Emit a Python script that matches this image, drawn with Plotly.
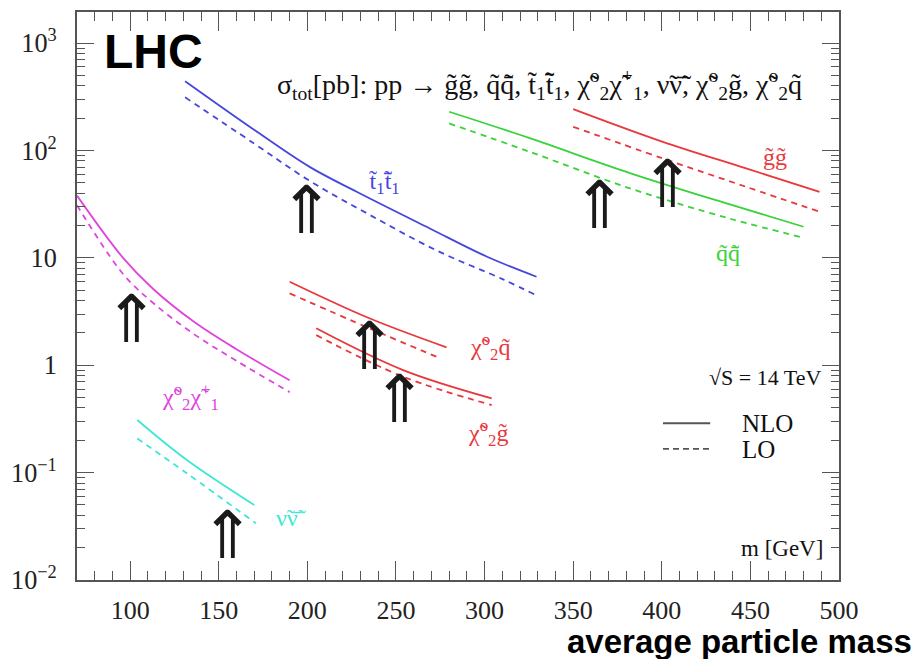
import math
import plotly.graph_objects as go

# ---------------- data ----------------
stop_mass_nlo = [131, 169.5, 201.5, 227.8, 269.1, 301.1, 329.3]
stop_nlo = [442.6, 158.0, 70.0, 41.3, 18.8, 10.3, 6.67]
stop_mass_lo = [131, 169.5, 201.5, 235.3, 272.8, 310.4, 329.3]
stop_lo = [312.6, 117.5, 51.9, 25.1, 11.75, 6.31, 4.47]

chichi_mass = [70, 96, 113, 136, 160, 190]
chichi_nlo = [38.0, 10.0, 5.13, 2.54, 1.41, 0.724]
chichi_lo = [30.9, 7.08, 3.80, 1.95, 1.10, 0.562]

nunu_mass_nlo = [104, 132, 170]
nunu_nlo = [0.309, 0.131, 0.0499]
nunu_mass_lo = [104, 132, 171]
nunu_lo = [0.208, 0.0986, 0.0337]

chiq_mass_nlo = [190, 235, 278.5]
chiq_nlo = [6.0, 2.74, 1.47]
chiq_mass_lo = [190, 235, 275]
chiq_lo = [4.67, 2.21, 1.16]

chig_mass = [205, 254, 304]
chig_nlo = [2.21, 0.902, 0.492]
chig_lo = [1.91, 0.782, 0.426]

qq_mass = [280, 325.5, 382, 438, 480]
qq_nlo = [229.6, 130.3, 61.7, 31.6, 19.5]
qq_lo = [178.6, 97.3, 44.4, 23.3, 15.4]

gg_mass = [350, 400.6, 447.6, 489]
gg_nlo = [243.2, 120.5, 68.1, 41.2]
gg_lo = [166.3, 84.3, 45.9, 26.9]

# arrow markers (mass, cross-section at arrow centre)
arrow_mass = [199.6, 101, 155.2, 235.3, 252.2, 364.9, 403.4]
arrow_sigma = [27.9, 2.69, 0.0262, 1.49, 0.484, 31.0, 48.6]

# curve labels
label_text = ["t\u0303<sub>1</sub>t\u0304\u0303<sub>1</sub>", "g\u0303g\u0303", "q\u0303q\u0304\u0303",
              "\u03c7\u0303<sup>o</sup><sub>2</sub>q\u0303", "\u03c7\u0303<sup>o</sup><sub>2</sub>g\u0303",
              "\u03c7\u0303<sup>o</sup><sub>2</sub>\u03c7\u0303<sup>+</sup><sub>1</sub>", "\u03bd\u0303\u03bd\u0304\u0303"]
label_mass = [243.7, 463.6, 437.1, 302.9, 301.8, 133.8, 190.8]
label_sigma = [49.7, 86.9, 11.1, 1.48, 0.234, 0.506, 0.0378]

BLUE = "#4646dc"
RED = "#e8383c"
GREEN = "#3ad23a"
MAGENTA = "#e044dc"
CYAN = "#3ee6d6"
label_colors = [BLUE, RED, GREEN, RED, RED, MAGENTA, CYAN]

series = [
    (stop_mass_nlo, stop_nlo, stop_mass_lo, stop_lo, BLUE),
    (chichi_mass, chichi_nlo, chichi_mass, chichi_lo, MAGENTA),
    (nunu_mass_nlo, nunu_nlo, nunu_mass_lo, nunu_lo, CYAN),
    (chiq_mass_nlo, chiq_nlo, chiq_mass_lo, chiq_lo, RED),
    (chig_mass, chig_nlo, chig_mass, chig_lo, RED),
    (qq_mass, qq_nlo, qq_mass, qq_lo, GREEN),
    (gg_mass, gg_nlo, gg_mass, gg_lo, RED),
]

fig = go.Figure()
for mn, yn, ml, yl, col in series:
    fig.add_trace(go.Scatter(x=mn, y=yn, mode="lines", line=dict(color=col, width=1.8, shape="spline"),
                             showlegend=False, hoverinfo="skip"))
    fig.add_trace(go.Scatter(x=ml, y=yl, mode="lines",
                             line=dict(color=col, width=1.8, dash="6px,5px", shape="spline"),
                             showlegend=False, hoverinfo="skip"))

SERIF = "Liberation Serif, Times New Roman, serif"
ann = []
for m, s in zip(arrow_mass, arrow_sigma):
    ann.append(dict(x=m, y=math.log10(s), yref="y", xref="x", text="\u21d1", showarrow=False,
                    font=dict(family="DejaVu Sans", size=66, color="#1a1a1a"),
                    xanchor="center", yanchor="middle"))
for t, m, s, c in zip(label_text, label_mass, label_sigma, label_colors):
    ann.append(dict(x=m, y=math.log10(s), xref="x", yref="y", text=t, showarrow=False,
                    font=dict(family=SERIF, size=24, color=c), xanchor="center", yanchor="middle"))

ann += [
    dict(x=0.100, y=0.931, xref="paper", yref="paper", text="<b>LHC</b>", showarrow=False,
         font=dict(family="Liberation Sans, Arial", size=48, color="#000"), xanchor="center", yanchor="middle"),
    dict(x=0.607, y=0.872, xref="paper", yref="paper",
         text="\u03c3<sub>tot</sub>[pb]: pp \u2192 g\u0303g\u0303, q\u0303q\u0304\u0303, t\u0303<sub>1</sub>t\u0304\u0303<sub>1</sub>, "
              "\u03c7\u0303<sup>o</sup><sub>2</sub>\u03c7\u0303<sup>+</sup><sub>1</sub>, \u03bd\u0303\u03bd\u0304\u0303, "
              "\u03c7\u0303<sup>o</sup><sub>2</sub>g\u0303, \u03c7\u0303<sup>o</sup><sub>2</sub>q\u0303",
         showarrow=False, font=dict(family=SERIF, size=28, color="#111"), xanchor="center", yanchor="middle"),
    dict(x=0.903, y=0.356, xref="paper", yref="paper", text="\u221aS = 14 TeV", showarrow=False,
         font=dict(family=SERIF, size=22, color="#111"), xanchor="center", yanchor="middle"),
    dict(x=0.870, y=0.276, xref="paper", yref="paper", text="NLO", showarrow=False,
         font=dict(family=SERIF, size=25, color="#111"), xanchor="left", yanchor="middle"),
    dict(x=0.870, y=0.229, xref="paper", yref="paper", text="LO", showarrow=False,
         font=dict(family=SERIF, size=25, color="#111"), xanchor="left", yanchor="middle"),
    dict(x=0.925, y=0.056, xref="paper", yref="paper", text="m [GeV]", showarrow=False,
         font=dict(family=SERIF, size=23, color="#111"), xanchor="center", yanchor="middle"),
    dict(x=1.099, y=-0.109, xref="paper", yref="paper", text="<b>average particle mass</b>", showarrow=False,
         font=dict(family="Liberation Sans, Arial", size=33, color="#000"), xanchor="right", yanchor="middle"),
]

shapes = [
    dict(type="line", xref="paper", yref="paper", x0=0.769, x1=0.831, y0=0.276, y1=0.276,
         line=dict(color="#555", width=1.8)),
    dict(type="line", xref="paper", yref="paper", x0=0.769, x1=0.831, y0=0.231, y1=0.231,
         line=dict(color="#555", width=1.8, dash="6px,4px")),
]

axis_common = dict(showline=True, linecolor="#555", linewidth=2, mirror="allticks", ticks="inside",
                   tickcolor="#555", tickwidth=1.3, showgrid=False, zeroline=False, automargin=False)

fig.update_layout(
    width=922, height=659,
    margin=dict(l=69, r=91, t=4, b=87),
    paper_bgcolor="white", plot_bgcolor="white",
    showlegend=False,
    xaxis=dict(range=[70, 500], tick0=0, dtick=50, ticklen=19,
               minor=dict(dtick=10, ticks="inside", ticklen=9, tickcolor="#555", showgrid=False),
               tickfont=dict(family=SERIF, size=26, color="#222"), ticklabelstandoff=6, **axis_common),
    yaxis=dict(type="log", range=[-2, 3.29], dtick=1, exponentformat="power", ticklen=17,
               minor=dict(dtick="D1", ticks="inside", ticklen=8, tickcolor="#555", showgrid=False),
               tickfont=dict(family=SERIF, size=21, color="#222"), ticklabelstandoff=14, **axis_common),
    annotations=ann,
    shapes=shapes,
)

fig.write_html("out.html")
